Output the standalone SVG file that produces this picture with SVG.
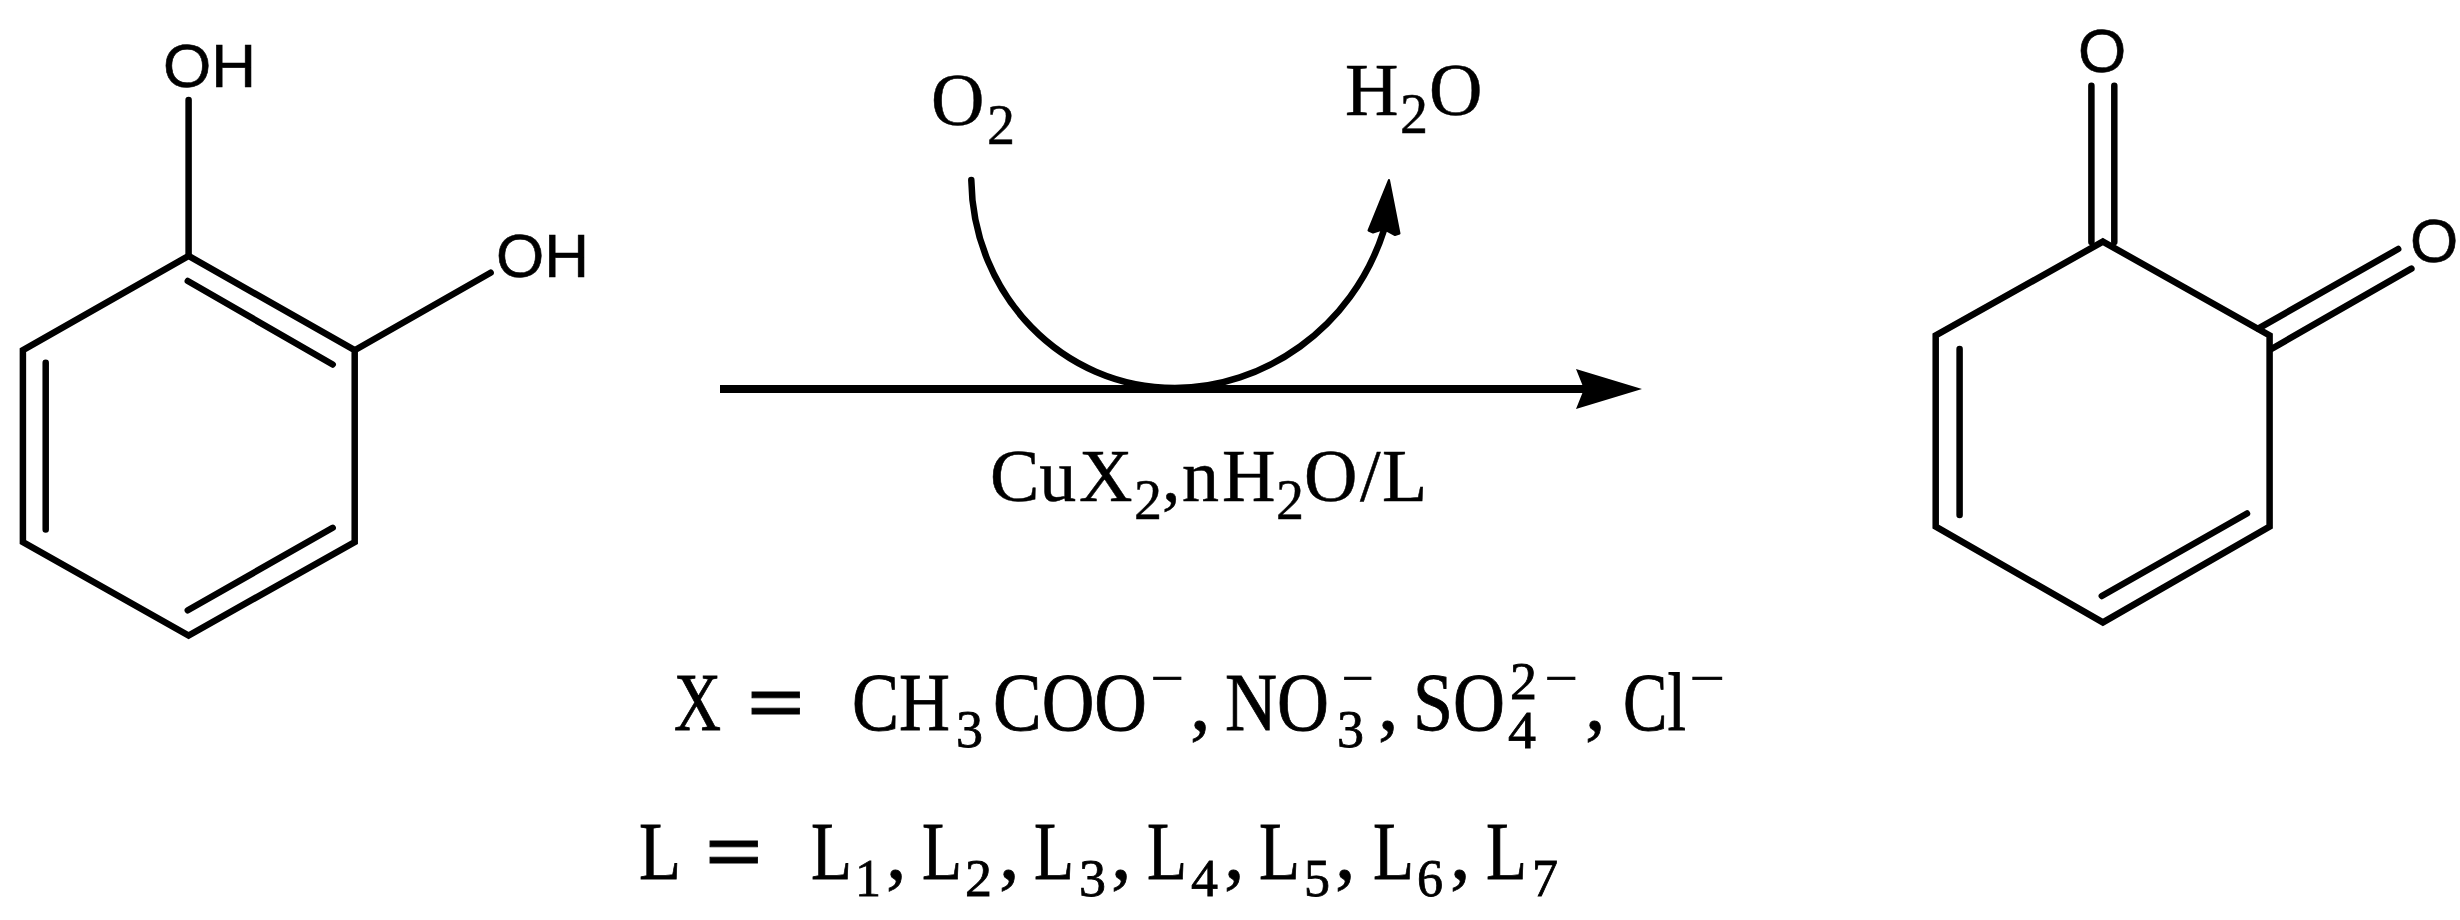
<svg xmlns="http://www.w3.org/2000/svg" width="2460" height="920" viewBox="0 0 2460 920">
<style>
.b{fill:none;stroke:#000;stroke-width:6.5;stroke-linejoin:miter}
.i{fill:none;stroke:#000;stroke-width:6.5;stroke-linecap:round}
.a{font-family:"Liberation Sans",Arial,sans-serif;font-size:62px;fill:#000;stroke:#000;stroke-width:.6}
.t{font-family:"Liberation Serif","Times New Roman",serif;font-size:74px;fill:#000;stroke:#000;stroke-width:.5}
.s{font-family:"Liberation Serif","Times New Roman",serif;font-size:56px;fill:#000;stroke:#000;stroke-width:.5}
.m{font-family:"Liberation Serif","Times New Roman",serif;font-size:82px;fill:#000;stroke:#000;stroke-width:.8}
.n{font-family:"Liberation Serif","Times New Roman",serif;font-size:53px;fill:#000;stroke:#000;stroke-width:.8}
</style>
<defs>
<marker id="h1" markerUnits="userSpaceOnUse" markerWidth="66" markerHeight="40" viewBox="0 0 66 40" refX="14" refY="20" orient="auto"><path d="M0 0L66 20L0 40L8 20Z" fill="#000"/></marker>
</defs>
<rect width="2460" height="920" fill="#fff"/>
<g id="catechol">
<path class="b" d="M188.6 255.9L354.7 350.2V542L188.6 635.5L22.9 542V350.2Z"/>
<path class="i" d="M188.6 255.9V100M354.7 350.2L490.6 272.7M187.8 281L332.7 364.5M45.7 362.8V529.5M187.8 610.3L332.7 527.8"/>
<text class="a" x="163" y="87">OH</text>
<text class="a" x="496" y="277">OH</text>
</g>
<g id="benzoquinone">
<path class="b" d="M2102.9 241.6L2269.6 335.5V526.5L2102.9 622.4L1935.7 526.5V335.5Z"/>
<path class="i" d="M2091.4 85.7V242M2114.3 85.7V242M2258.2 328.6L2398.2 249M2271.4 349L2411.4 268.6M1959.6 349V515M2101.8 596L2247 513.5"/>
<text class="a" x="2102" y="72" text-anchor="middle">O</text>
<text class="a" x="2434" y="262" text-anchor="middle">O</text>
</g>
<g id="connectors">
<path d="M720 389H1590" fill="none" stroke="#000" stroke-width="8" marker-end="url(#h1)"/>
<path d="M971.3 180C973 295 1062 388 1175 388C1262 388 1352 330 1384 230" fill="none" stroke="#000" stroke-width="6.5" stroke-linecap="round"/>
<polygon points="1389,180 1368.5,230.5 1373,232.5 1384,229 1395,235 1399.5,233.5" fill="#000" stroke="#000" stroke-width="2" stroke-linejoin="round"/>
</g>
<g id="label-o2"><text class="t" x="931" y="125">O</text><text class="s" x="987" y="143.5" font-size="58">2</text></g>
<g id="label-h2o"><text class="t" x="1345" y="115">H</text><text class="s" x="1400" y="133">2</text><text class="t" x="1429" y="115">O</text></g>
<g id="label-catalyst">
<text class="t" x="990" y="500.5">Cu</text><text class="t" x="1079" y="500.5">X</text><text class="s" x="1134" y="519">2</text><text class="t" x="1162" y="500.5">,</text><text class="t" x="1182" y="500.5">n</text><text class="t" x="1222" y="500.5">H</text><text class="s" x="1276" y="519">2</text><text class="t" x="1304" y="500.5">O</text><text class="t" x="1360" y="500.5">/</text><text class="t" x="1382" y="500.5">L</text>
</g>
<g id="label-x">
<text class="m" x="674" y="730" textLength="47" lengthAdjust="spacingAndGlyphs">X</text>
<text class="m" x="747" y="730" font-weight="bold" textLength="58" lengthAdjust="spacingAndGlyphs">=</text>
<text class="m" x="852" y="730" textLength="98" lengthAdjust="spacingAndGlyphs">CH</text>
<text class="n" x="956" y="747" textLength="27" lengthAdjust="spacingAndGlyphs">3</text>
<text class="m" x="993" y="730" textLength="154" lengthAdjust="spacingAndGlyphs">COO</text>
<text class="n" x="1151" y="696" textLength="33" lengthAdjust="spacingAndGlyphs">−</text>
<text class="m" x="1190" y="730">,</text>
<text class="m" x="1225" y="730" textLength="104" lengthAdjust="spacingAndGlyphs">NO</text>
<text class="n" x="1342" y="696" textLength="32" lengthAdjust="spacingAndGlyphs">−</text>
<text class="n" x="1337" y="747" textLength="27" lengthAdjust="spacingAndGlyphs">3</text>
<text class="m" x="1378" y="730">,</text>
<text class="m" x="1413" y="730" textLength="92" lengthAdjust="spacingAndGlyphs">SO</text>
<text class="n" x="1510" y="699" textLength="27" lengthAdjust="spacingAndGlyphs">2</text>
<text class="n" x="1508" y="748" textLength="28" lengthAdjust="spacingAndGlyphs">4</text>
<text class="n" x="1545" y="696" textLength="33" lengthAdjust="spacingAndGlyphs">−</text>
<text class="m" x="1585" y="730">,</text>
<text class="m" x="1623" y="730" textLength="63" lengthAdjust="spacingAndGlyphs">Cl</text>
<text class="n" x="1690" y="696" textLength="35" lengthAdjust="spacingAndGlyphs">−</text>
</g>
<g id="label-l">
<text class="m" x="639" y="879" textLength="42" lengthAdjust="spacingAndGlyphs">L</text>
<text class="m" x="705" y="879" font-weight="bold" textLength="58" lengthAdjust="spacingAndGlyphs">=</text>
<text class="m" x="811" y="879" textLength="41" lengthAdjust="spacingAndGlyphs">L</text><text class="n" x="855" y="896" textLength="26" lengthAdjust="spacingAndGlyphs">1</text><text class="m" x="886" y="879">,</text>
<text class="m" x="922" y="879" textLength="40" lengthAdjust="spacingAndGlyphs">L</text><text class="n" x="965" y="896" textLength="27" lengthAdjust="spacingAndGlyphs">2</text><text class="m" x="999" y="879">,</text>
<text class="m" x="1034" y="879" textLength="40" lengthAdjust="spacingAndGlyphs">L</text><text class="n" x="1079" y="896" textLength="27" lengthAdjust="spacingAndGlyphs">3</text><text class="m" x="1111" y="879">,</text>
<text class="m" x="1147" y="879" textLength="40" lengthAdjust="spacingAndGlyphs">L</text><text class="n" x="1191" y="896" textLength="27" lengthAdjust="spacingAndGlyphs">4</text><text class="m" x="1224" y="879">,</text>
<text class="m" x="1259" y="879" textLength="41" lengthAdjust="spacingAndGlyphs">L</text><text class="n" x="1304" y="896" textLength="26" lengthAdjust="spacingAndGlyphs">5</text><text class="m" x="1335" y="879">,</text>
<text class="m" x="1373" y="879" textLength="41" lengthAdjust="spacingAndGlyphs">L</text><text class="n" x="1417" y="896" textLength="26" lengthAdjust="spacingAndGlyphs">6</text><text class="m" x="1450" y="879">,</text>
<text class="m" x="1486" y="879" textLength="41" lengthAdjust="spacingAndGlyphs">L</text><text class="n" x="1532" y="896" textLength="26" lengthAdjust="spacingAndGlyphs">7</text>
</g>
</svg>
